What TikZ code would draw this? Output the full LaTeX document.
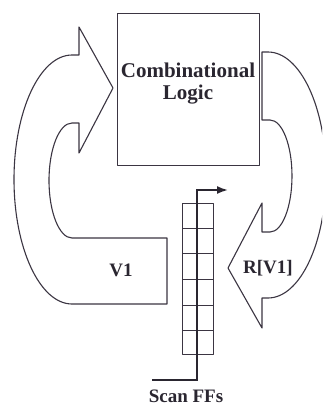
\documentclass[tikz,border=0pt]{standalone}
\usepackage{fontspec}
\setmainfont{Liberation Serif}
\usetikzlibrary{arrows.meta}
\definecolor{ink}{HTML}{3B3542}
\definecolor{txt}{HTML}{2A2630}
\tikzset{
  shape line/.style={draw=ink, line width=1.1pt, line join=round},
  lbl/.style={text=txt, font=\bfseries\fontsize{19}{20}\selectfont, inner sep=0pt},
  chain/.style={draw=txt, line width=1.8pt},
}
\begin{document}
\begin{tikzpicture}[x=1pt,y=-1pt]
\path[clip] (0,0) rectangle (322,407);
\fill[white] (0,0) rectangle (322,407);

% Combinational logic box
\node[shape line, draw, minimum width=142pt, minimum height=152pt, inner sep=0pt, anchor=north west] (box) at (117,13) {};
\node[lbl, font=\bfseries\fontsize{21}{22}\selectfont, align=center] (boxtext) at (188,84) {Combinational\\Logic};

% Left curved arrow (V1)
\draw[shape line] (167,304) -- (72,304)
  arc[start angle=90, end angle=270, x radius=58, y radius=124.5]
  -- (79,55) -- (79,27) -- (113,88) -- (79,153) -- (79,123) -- (72,123)
  arc[start angle=270, end angle=90, x radius=23, y radius=57.5]
  -- (167,238) -- cycle;
\node[lbl] (v1) at (121,270) {V1};

% Right curved arrow (R[V1])
\draw[shape line] (262,120) -- (262,52) -- (268,52)
  arc[start angle=270, end angle=450, x radius=58, y radius=123]
  -- (262,298) -- (262,328) -- (228,268) -- (262,203) -- (262,232) -- (270,232)
  arc[start angle=90, end angle=-90, x radius=22, y radius=56]
  -- cycle;
\node[lbl] (rv1) at (268,268) {R[V1]};

% Scan flip-flops
\draw[shape line, line width=0.9pt] (182,203) rectangle (213,354);
\foreach \yy in {228,253,279,305,330} {
  \draw[shape line, line width=0.9pt] (182,\yy) -- (213,\yy);
}
\coordinate (cin) at (152,380);
\coordinate (cbot) at (197,380);
\coordinate (ctop) at (197,190);
\coordinate (cout) at (228,190);
\draw[chain, -{Latex[length=11pt,width=8pt]}] (cin) -- (cbot) -- (ctop) -- (cout);
\node[lbl] (scan) at (186,396) {Scan FFs};
\end{tikzpicture}
\end{document}
